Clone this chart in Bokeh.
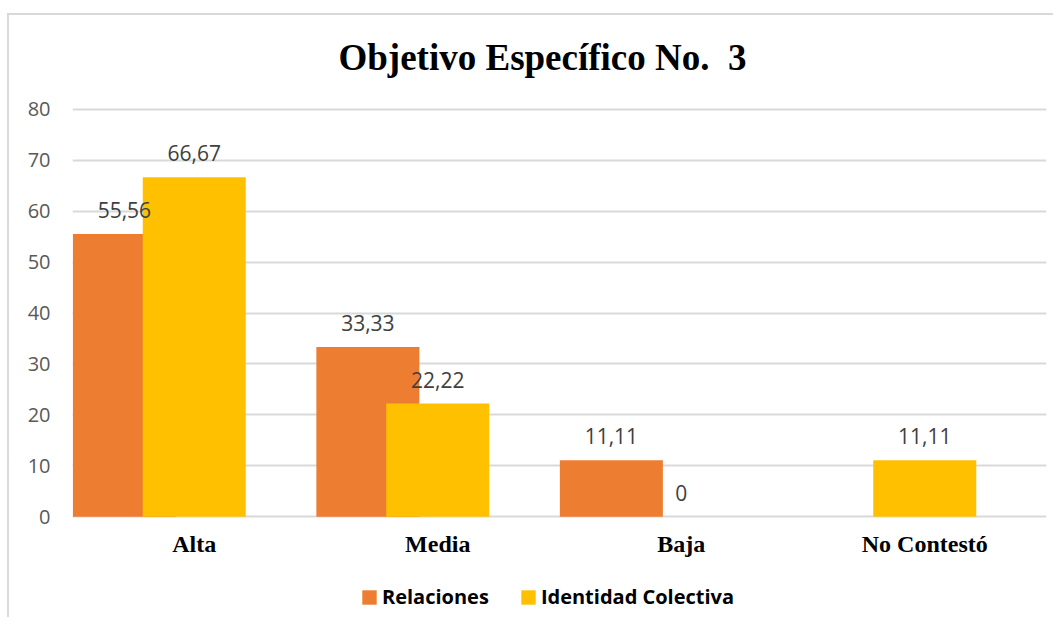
from bokeh.plotting import figure
from bokeh.models import ColumnDataSource, FixedTicker, Legend, LegendItem
from bokeh.transform import dodge
from bokeh.core.properties import value
from bokeh.embed import file_html
from bokeh.resources import INLINE

categories = ["Alta", "Media", "Baja", "No Contestó"]
relaciones = [55.56, 33.33, 11.11, None]
identidad = [66.67, 22.22, 0.0, 11.11]
y_ticks = [0, 10, 20, 30, 40, 50, 60, 70, 80]
title_text = "Objetivo Específico No.\u00a0 3"
series_names = ["Relaciones", "Identidad Colectiva"]


def fmt(v):
    if v is None:
        return ""
    if v == 0:
        return "0"
    return f"{v:.2f}".replace(".", ",")


def num(v):
    return float("nan") if v is None else v


src = ColumnDataSource(dict(
    cat=categories,
    base=[0] * len(categories),
    rel=[num(v) for v in relaciones],
    ide=[num(v) for v in identidad],
    rel_lbl=[fmt(v) for v in relaciones],
    ide_lbl=[fmt(v) for v in identidad],
))

Y_TOP = max(y_ticks)
# frame extends beyond the 0..80 value band so that the title, category labels
# and legend sit inside it
p = figure(x_range=categories, y_range=(-20, 96.5), width=1046, height=604,
           output_backend="svg", toolbar_location=None,
           min_border_left=63, min_border_right=9, min_border_top=10,
           min_border_bottom=1)
p.styles = {"border-left": "2px solid #d9d9d9", "border-top": "2px solid #d9d9d9",
            "margin-left": "7px", "margin-top": "13px"}
p.outline_line_color = None
p.background_fill_color = "white"
p.border_fill_color = "white"

# chart title, centred a little left of the plot centre
p.text(x=[len(categories) / 2], y=[Y_TOP], text=[title_text], x_offset=-17,
       y_offset=-52, text_align="center", text_baseline="middle",
       text_font=value("Liberation Serif"), text_font_style="bold",
       text_font_size="37px", text_color="black")

OFF = -0.287
W = 0.423
r1 = p.vbar(x=dodge("cat", OFF, range=p.x_range), top="rel", width=W, source=src,
            fill_color="#ED7D31", line_color=None)
r2 = p.vbar(x="cat", top="ide", width=W, source=src,
            fill_color="#FFC000", line_color=None)

for xs, ys, ls in [(dodge("cat", OFF, range=p.x_range), "rel", "rel_lbl"),
                   ("cat", "ide", "ide_lbl")]:
    p.text(x=xs, y=ys, text=ls, source=src, text_align="center",
           text_baseline="middle", y_offset=-24, text_font=value("Open Sans"),
           text_font_size="21px", text_color="#404040")

# category labels under the bars
p.text(x="cat", y="base", text="cat", source=src, text_align="center",
       text_baseline="middle", y_offset=27, text_font=value("Liberation Serif"),
       text_font_style="bold", text_font_size="24px", text_color="black")

p.xaxis.visible = False
p.xgrid.grid_line_color = None
p.ygrid.grid_line_color = "#d9d9d9"
p.ygrid.grid_line_width = 2
p.yaxis.ticker = FixedTicker(ticks=y_ticks)
p.ygrid.ticker = FixedTicker(ticks=y_ticks)

p.yaxis.axis_line_color = None
p.yaxis.major_tick_line_color = None
p.yaxis.minor_tick_line_color = None
p.yaxis.major_tick_out = 0
p.yaxis.major_tick_in = 0
p.yaxis.major_label_text_font = "Open Sans"
p.yaxis.major_label_text_font_size = "20px"
p.yaxis.major_label_text_color = "#595959"
p.yaxis.major_label_standoff = 22

legend = Legend(items=[LegendItem(label=series_names[0], renderers=[r1]),
                       LegendItem(label=series_names[1], renderers=[r2])],
                orientation="horizontal", location=(288, 8),
                padding=0, margin=0, spacing=30, label_standoff=4,
                glyph_width=18, glyph_height=18,
                label_text_font="Open Sans", label_text_font_style="bold",
                label_text_font_size="20px", label_text_color="black",
                border_line_color=None, background_fill_alpha=0)
p.add_layout(legend, "center")

open("out.html", "w").write(file_html(p, INLINE))
